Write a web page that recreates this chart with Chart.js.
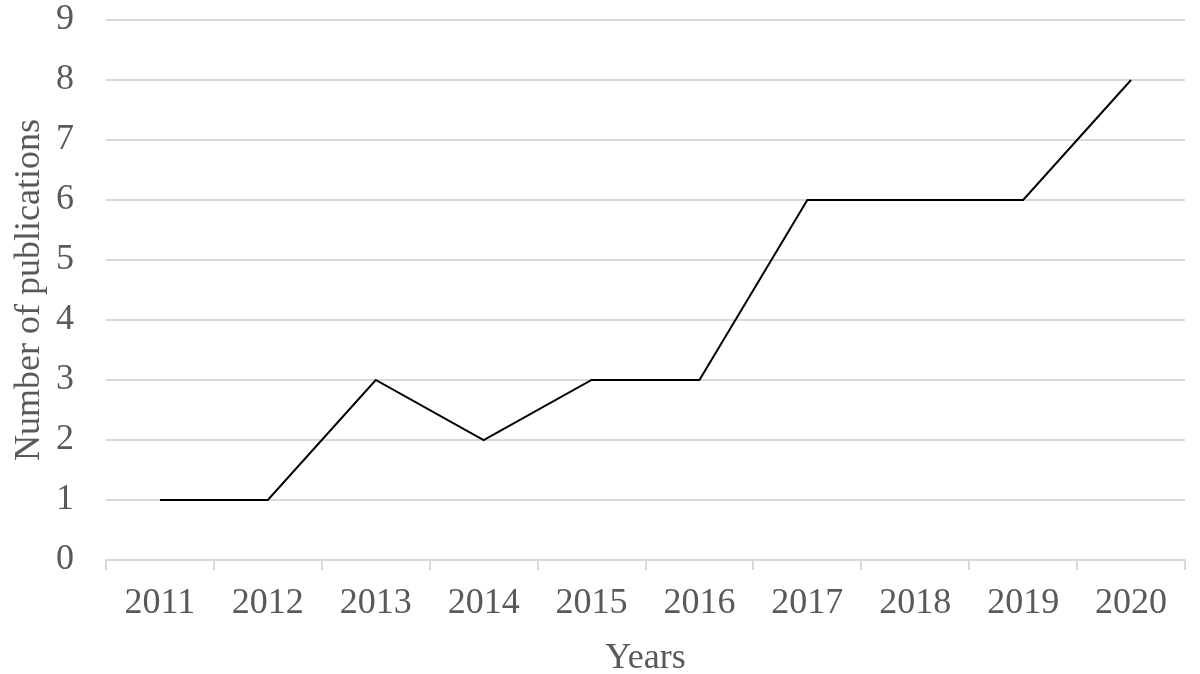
<!DOCTYPE html>
<html>
<head>
<meta charset="utf-8">
<script src="https://cdn.jsdelivr.net/npm/chart.js@4/dist/chart.umd.min.js"></script>
<style>
  html, body { margin: 0; padding: 0; background: #fff; }
  #wrap { width: 1200px; height: 674px; }
</style>
</head>
<body>
<div id="wrap"><canvas id="chart"></canvas></div>
<script>
// podaci sa grafikona
const years = ['2011', '2012', '2013', '2014', '2015', '2016', '2017', '2018', '2019', '2020'];
const publications = [1, 1, 3, 2, 3, 3, 6, 6, 6, 8];
const yMin = 0;
const yMax = 9;

const grey = '#595959';
const gridGrey = '#d9d9d9';
const serif = '"Liberation Serif", "Times New Roman", serif';

const ctx = document.getElementById('chart').getContext('2d');
new Chart(ctx, {
    type: 'line',
    data: {
        labels: years,
        datasets: [{
            data: publications,
            borderColor: '#000',
            borderWidth: 2,
            pointRadius: 0,
            tension: 0,
            fill: false
        }]
    },
    options: {
        responsive: true,
        maintainAspectRatio: false,
        animation: false,
        layout: { padding: { top: 20, right: 15, left: 0, bottom: 0 } },
        plugins: {
            legend: { display: false },
            tooltip: { enabled: false }
        },
        scales: {
            x: {
                offset: true,
                grid: {
                    offset: true,
                    drawOnChartArea: false,
                    color: gridGrey,
                    lineWidth: 2,
                    tickLength: 10
                },
                border: { color: gridGrey, width: 2 },
                ticks: {
                    color: grey,
                    font: { family: serif, size: 36 },
                    padding: 12,
                    maxRotation: 0
                },
                title: {
                    display: true,
                    text: 'Years',
                    color: grey,
                    font: { family: serif, size: 36 },
                    padding: { top: 0, bottom: -6 }
                },
                afterFit: scale => {
                    scale.height = 114;
                    scale.paddingLeft = 0;
                    scale.paddingRight = 0;
                }
            },
            y: {
                min: yMin,
                max: yMax,
                grid: {
                    color: gridGrey,
                    lineWidth: 2,
                    drawTicks: false
                },
                border: { display: false },
                ticks: {
                    stepSize: 1,
                    color: grey,
                    font: { family: serif, size: 36 },
                    padding: 32
                },
                title: {
                    display: true,
                    text: 'Number of publications',
                    color: grey,
                    font: { family: serif, size: 36 },
                    padding: { top: 8, bottom: 0 }
                },
                afterFit: scale => {
                    scale.width = 106;
                    scale.paddingTop = 0;
                    scale.paddingBottom = 0;
                }
            }
        }
    }
});
</script>
</body>
</html>
